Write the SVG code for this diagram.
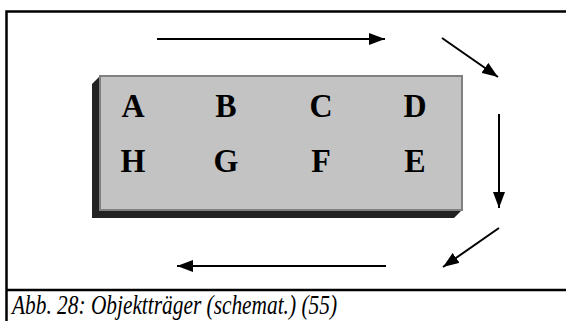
<svg xmlns="http://www.w3.org/2000/svg" width="566" height="321" viewBox="0 0 566 321">
<style>
.frame{stroke:#000;stroke-width:2.5;fill:none}
.lbl{font-family:"Liberation Serif","Times New Roman",serif;font-weight:bold;font-size:32px;fill:#000;text-anchor:middle}
.cap{font-family:"Liberation Serif","Times New Roman",serif;font-style:italic;font-size:28px;fill:#000}
.arr{stroke:#000;stroke-width:2;fill:none;marker-end:url(#ah)}
</style>
<defs>
<marker id="ah" viewBox="0 0 16 12" refX="16" refY="6" markerWidth="16" markerHeight="12" markerUnits="userSpaceOnUse" orient="auto">
<path d="M0,0 L16,6 L0,12 Z" fill="#000"/>
</marker>
</defs>
<rect width="566" height="321" fill="#fff"/>
<g id="frame">
<path class="frame" d="M566,11.5 H6.5 V321"/>
<path class="frame" d="M6.5,290 H566"/>
</g>
<g id="slide">
<polygon points="100,76 92,84 92,218 454,218 462,210 100,210" fill="#222"/>
<rect x="100" y="76" width="362" height="134" fill="#c3c3c3" stroke="#808080" stroke-width="2"/>
<g transform="translate(0,117) scale(1,1.05)">
<text class="lbl" x="133" y="0">A</text>
<text class="lbl" x="226" y="0">B</text>
<text class="lbl" x="321" y="0">C</text>
<text class="lbl" x="415" y="0">D</text>
</g>
<g transform="translate(0,172) scale(1,1.05)">
<text class="lbl" x="133" y="0">H</text>
<text class="lbl" x="226" y="0">G</text>
<text class="lbl" x="321" y="0">F</text>
<text class="lbl" x="415" y="0">E</text>
</g>
</g>
<g id="connectors">
<line class="arr" x1="157" y1="39" x2="385" y2="39"/>
<line class="arr" x1="442" y1="38" x2="498" y2="77"/>
<line class="arr" x1="499" y1="114" x2="499" y2="208"/>
<line class="arr" x1="499" y1="228" x2="443" y2="267"/>
<line class="arr" x1="386" y1="266" x2="177" y2="266"/>
</g>
<text class="cap" x="12" y="314" textLength="325" lengthAdjust="spacingAndGlyphs">Abb. 28: Objektträger (schemat.) (55)</text>
</svg>
